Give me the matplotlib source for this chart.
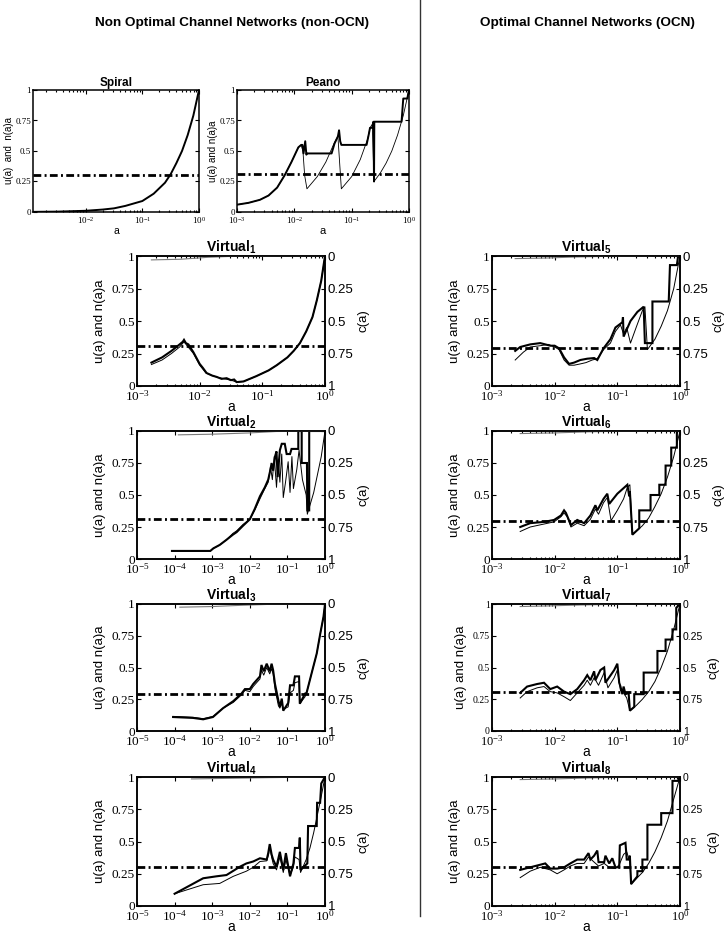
import numpy as np
import matplotlib
matplotlib.use('Agg')
import matplotlib.pyplot as plt
from matplotlib.lines import Line2D

plt.rcParams['mathtext.fontset'] = 'custom'
plt.rcParams['mathtext.rm'] = 'Liberation Serif'
plt.rcParams['mathtext.bf'] = 'Liberation Sans:bold'
plt.rcParams['mathtext.sf'] = 'Liberation Sans'
plt.rcParams['font.family'] = ['Liberation Sans', 'DejaVu Sans']
plt.rcParams['font.serif'] = ['Liberation Serif', 'DejaVu Serif']

# ---------------- data (x stored as log10(a)) ----------------
spiral_la = [-2.93, -2.5, -2.0, -1.7, -1.5, -1.3, -1.0, -0.8, -0.6, -0.5, -0.4, -0.3, -0.2, -0.1, 0.0]
spiral_u = [0.0012, 0.003, 0.01, 0.02, 0.03, 0.05, 0.09, 0.15, 0.24, 0.31, 0.4, 0.5, 0.63, 0.79, 1.0]
spiral_thr = 0.305

peano_u_la = [-3.0, -2.8, -2.6, -2.45, -2.3, -2.17, -2.05, -1.93, -1.88, -1.86, -1.84, -1.81, -1.79, -1.78,
              -1.35, -1.3, -1.24, -1.22, -1.2, -1.18, -0.74, -0.7, -0.68, -0.64, -0.62, -0.61, -0.605,
              -0.13, -0.1, -0.03, 0.0]
peano_u = [0.06, 0.075, 0.1, 0.135, 0.2, 0.3, 0.41, 0.53, 0.55, 0.55, 0.48, 0.58, 0.47, 0.48,
           0.48, 0.56, 0.62, 0.67, 0.58, 0.55, 0.55, 0.64, 0.69, 0.69, 0.74, 0.25, 0.74,
           0.74, 0.93, 0.93, 1.0]
peano_n_la = [-3.0, -2.8, -2.6, -2.45, -2.3, -2.17, -2.05, -1.93, -1.88, -1.85, -1.82, -1.78, -1.6, -1.45,
              -1.3, -1.24, -1.18, -1.0, -0.85, -0.72, -0.68, -0.64, -0.61, -0.5, -0.4, -0.3, -0.2, -0.1, 0.0]
peano_n = [0.06, 0.075, 0.1, 0.135, 0.2, 0.3, 0.41, 0.53, 0.55, 0.5, 0.3, 0.19, 0.29, 0.41,
           0.57, 0.62, 0.19, 0.29, 0.43, 0.6, 0.69, 0.72, 0.25, 0.32, 0.4, 0.5, 0.63, 0.79, 1.0]
peano_thr = 0.315

v1_u_la = [-2.77, -2.6, -2.45, -2.32, -2.27, -2.25, -2.22, -2.18, -2.1, -2.0, -1.95, -1.89, -1.8, -1.73, -1.65,
           -1.57, -1.5, -1.45, -1.41, -1.3, -1.25, -1.1, -0.9, -0.77, -0.6, -0.5, -0.4, -0.3, -0.2, -0.13, -0.06, 0.0]
v1_u = [0.18, 0.22, 0.27, 0.32, 0.34, 0.355, 0.33, 0.32, 0.26, 0.17, 0.14, 0.1, 0.08, 0.07, 0.055,
        0.06, 0.045, 0.05, 0.03, 0.035, 0.045, 0.075, 0.12, 0.16, 0.22, 0.27, 0.33, 0.42, 0.53, 0.66, 0.81, 1.0]
v1_n_la = [-2.77, -2.6, -2.45, -2.32, -2.25, -2.2, -2.1, -2.0, -1.9, -1.8, -1.7, -1.6, -1.5, -1.41, -1.3,
           -1.1, -0.9, -0.77, -0.6, -0.5, -0.4, -0.3, -0.2, -0.13, -0.06, 0.0]
v1_n = [0.165, 0.2, 0.25, 0.3, 0.34, 0.31, 0.25, 0.16, 0.1, 0.08, 0.065, 0.055, 0.045, 0.03, 0.035,
        0.075, 0.12, 0.16, 0.22, 0.27, 0.33, 0.42, 0.53, 0.66, 0.81, 1.0]
v1_c_la = [-2.77, -2.3, -1.87, -1.5, 0.0]
v1_c = [0.03, 0.025, 0.01, 0.003, 0.0]
v1_thr = 0.305

v2_u_la = [-4.07, -3.05, -2.97, -2.8, -2.62, -2.45, -2.35, -2.18, -2.0, -1.87, -1.73, -1.6, -1.51, -1.45, -1.42,
           -1.38, -1.33, -1.29, -1.26, -1.2, -1.15, -1.07, -1.02, -0.93, -0.89, -0.71, -0.71, -0.62, -0.62,
           -0.48, -0.47, -0.42, -0.42, 0.0]
v2_u = [0.063, 0.063, 0.083, 0.11, 0.15, 0.19, 0.21, 0.26, 0.31, 0.39, 0.49, 0.56, 0.62, 0.7, 0.75,
        0.69, 0.8, 0.84, 0.64, 0.85, 0.9, 0.9, 0.82, 0.82, 0.86, 0.86, 1.0, 1.0, 0.75,
        0.75, 0.38, 0.38, 1.0, 1.0]
v2_n_la = [-4.07, -3.05, -2.97, -2.8, -2.62, -2.45, -2.35, -2.18, -2.0, -1.87, -1.73, -1.6, -1.51, -1.45, -1.4,
           -1.35, -1.29, -1.24, -1.2, -1.15, -1.11, -1.05, -0.98, -0.93, -0.88, -0.84, -0.75, -0.69, -0.6,
           -0.5, -0.47, -0.4, -0.3, -0.2, -0.1, 0.0]
v2_n = [0.063, 0.063, 0.083, 0.11, 0.15, 0.2, 0.22, 0.27, 0.31, 0.38, 0.47, 0.55, 0.6, 0.72, 0.62,
        0.8, 0.56, 0.78, 0.6, 0.82, 0.48, 0.6, 0.76, 0.52, 0.8, 0.55, 0.7, 0.85, 0.62,
        0.5, 0.35, 0.42, 0.52, 0.66, 0.8, 1.0]
v2_c_la = [-3.9, -3.0, -2.0, -1.3, 0.0]
v2_c = [0.03, 0.025, 0.015, 0.004, 0.0]
v2_thr = 0.31

v3_la = [-4.04, -3.51, -3.24, -2.98, -2.71, -2.44, -2.22, -2.13, -2.0, -1.91, -1.82, -1.73, -1.69, -1.63, -1.55,
         -1.47, -1.42, -1.38, -1.33, -1.24, -1.2, -1.15, -1.11, -0.98, -0.93, -0.84, -0.8, -0.69, -0.67, -0.53,
         -0.49, -0.36, -0.22, -0.13, -0.04, 0.0]
v3_u = [0.11, 0.103, 0.092, 0.11, 0.18, 0.235, 0.295, 0.33, 0.33, 0.37, 0.40, 0.43, 0.52, 0.47, 0.53,
        0.47, 0.53, 0.48, 0.37, 0.24, 0.19, 0.255, 0.16, 0.22, 0.36, 0.36, 0.43, 0.43, 0.215, 0.295,
        0.30, 0.45, 0.61, 0.76, 0.9, 1.0]
v3_n = [0.115, 0.108, 0.097, 0.115, 0.18, 0.225, 0.285, 0.32, 0.31, 0.35, 0.38, 0.41, 0.48, 0.44, 0.5,
        0.45, 0.49, 0.45, 0.33, 0.2, 0.18, 0.22, 0.17, 0.19, 0.3, 0.32, 0.38, 0.39, 0.215, 0.27,
        0.3, 0.45, 0.61, 0.76, 0.9, 1.0]
v3_c_la = [-3.86, -3.0, -2.2, -1.5, 0.0]
v3_c = [0.025, 0.02, 0.01, 0.003, 0.0]
v3_thr = 0.29

v4_u_la = [-4.0, -3.24, -2.89, -2.62, -2.26, -2.09, -1.91, -1.73, -1.55, -1.51, -1.47, -1.42, -1.38, -1.29,
           -1.2, -1.11, -1.04, -0.93, -0.84, -0.8, -0.69, -0.67, -0.65, -0.47, -0.45, -0.22, -0.21, -0.13,
           -0.1, 0.0]
v4_u = [0.095, 0.215, 0.23, 0.24, 0.305, 0.33, 0.345, 0.37, 0.36, 0.41, 0.48, 0.40, 0.36, 0.305,
        0.42, 0.28, 0.41, 0.23, 0.33, 0.45, 0.45, 0.53, 0.28, 0.33, 0.62, 0.62, 0.8, 0.8,
        0.95, 1.0]
v4_n_la = [-4.0, -3.24, -2.8, -2.44, -2.09, -1.91, -1.73, -1.55, -1.5, -1.47, -1.42, -1.38, -1.29, -1.2,
           -1.11, -1.04, -0.93, -0.84, -0.8, -0.69, -0.65, -0.5, -0.4, -0.3, -0.2, -0.1, 0.0]
v4_n = [0.095, 0.165, 0.175, 0.23, 0.27, 0.3, 0.345, 0.35, 0.4, 0.46, 0.38, 0.33, 0.28, 0.38,
        0.26, 0.36, 0.24, 0.3, 0.38, 0.36, 0.26, 0.36, 0.45, 0.57, 0.71, 0.85, 1.0]
v4_c_la = [-3.55, -2.5, -1.5, 0.0]
v4_c = [0.015, 0.01, 0.005, 0.0]
v4_thr = 0.305

v5_u_la = [-2.63, -2.55, -2.39, -2.23, -2.07, -2.0, -1.93, -1.85, -1.77, -1.69, -1.59, -1.48, -1.37, -1.32,
           -1.22, -1.11, -1.03, -0.92, -0.91, -0.9, -0.79, -0.68, -0.58, -0.56, -0.44, -0.44, -0.18, -0.16,
           -0.05, -0.03, 0.0]
v5_u = [0.27, 0.30, 0.32, 0.33, 0.31, 0.31, 0.29, 0.22, 0.17, 0.18, 0.20, 0.21, 0.215, 0.20,
        0.29, 0.36, 0.45, 0.49, 0.53, 0.38, 0.50, 0.57, 0.61, 0.33, 0.33, 0.65, 0.65, 0.93,
        0.93, 1.0, 1.0]
v5_n_la = [-2.63, -2.5, -2.39, -2.23, -2.1, -2.0, -1.93, -1.85, -1.77, -1.69, -1.59, -1.5, -1.4, -1.32,
           -1.22, -1.11, -1.03, -0.95, -0.9, -0.85, -0.79, -0.7, -0.6, -0.56, -0.52, -0.4, -0.3, -0.2, -0.1, 0.0]
v5_n = [0.2, 0.26, 0.30, 0.31, 0.32, 0.30, 0.28, 0.2, 0.16, 0.16, 0.17, 0.18, 0.2, 0.21,
        0.28, 0.33, 0.42, 0.47, 0.40, 0.45, 0.33, 0.45, 0.58, 0.61, 0.28, 0.36, 0.46, 0.58, 0.75, 1.0]
v5_c_la = [-2.63, -2.1, -1.7, -1.2, 0.0]
v5_c = [0.02, 0.015, 0.008, 0.003, 0.0]
v5_thr = 0.29

v6_u_la = [-2.55, -2.39, -2.17, -2.01, -1.9, -1.85, -1.82, -1.74, -1.64, -1.53, -1.43, -1.35, -1.32, -1.22,
           -1.16, -1.13, -1.0, -0.84, -0.81, -0.8, -0.76, -0.65, -0.65, -0.47, -0.47, -0.33, -0.33, -0.23,
           -0.23, -0.14, -0.14, -0.05, -0.05, 0.0]
v6_u = [0.25, 0.28, 0.29, 0.305, 0.34, 0.38, 0.36, 0.265, 0.305, 0.28, 0.34, 0.42, 0.38, 0.47,
        0.51, 0.43, 0.51, 0.58, 0.49, 0.53, 0.19, 0.24, 0.38, 0.38, 0.5, 0.5, 0.58, 0.58,
        0.73, 0.73, 0.87, 0.87, 1.0, 1.0]
v6_n_la = [-2.55, -2.39, -2.2, -2.01, -1.9, -1.85, -1.8, -1.74, -1.64, -1.53, -1.43, -1.35, -1.3, -1.22,
           -1.16, -1.1, -1.0, -0.9, -0.84, -0.8, -0.76, -0.6, -0.5, -0.4, -0.3, -0.2, -0.1, 0.0]
v6_n = [0.215, 0.25, 0.27, 0.29, 0.33, 0.36, 0.33, 0.25, 0.28, 0.26, 0.31, 0.39, 0.35, 0.44,
        0.48, 0.3, 0.38, 0.47, 0.56, 0.58, 0.19, 0.26, 0.32, 0.41, 0.51, 0.64, 0.8, 1.0]
v6_c_la = [-2.55, -2.0, -1.5, -1.0, 0.0]
v6_c = [0.02, 0.015, 0.007, 0.002, 0.0]
v6_thr = 0.30

v7_u_la = [-2.55, -2.44, -2.28, -2.17, -2.07, -1.96, -1.85, -1.75, -1.64, -1.53, -1.48, -1.43, -1.37, -1.35,
           -1.27, -1.21, -1.19, -1.05, -1.0, -0.97, -0.95, -0.92, -0.9, -0.87, -0.82, -0.8, -0.73, -0.73,
           -0.58, -0.58, -0.36, -0.36, -0.23, -0.23, -0.12, -0.12, -0.06, -0.06, 0.0]
v7_u = [0.30, 0.35, 0.37, 0.38, 0.33, 0.35, 0.31, 0.29, 0.33, 0.40, 0.44, 0.40, 0.47, 0.40,
        0.48, 0.50, 0.38, 0.48, 0.53, 0.38, 0.35, 0.29, 0.35, 0.29, 0.30, 0.16, 0.19, 0.29,
        0.29, 0.46, 0.46, 0.63, 0.63, 0.72, 0.72, 0.8, 0.8, 0.97, 1.0]
v7_n_la = [-2.55, -2.44, -2.28, -2.17, -2.07, -1.96, -1.85, -1.75, -1.64, -1.53, -1.48, -1.43, -1.37, -1.3,
           -1.21, -1.15, -1.05, -1.0, -0.95, -0.9, -0.85, -0.8, -0.7, -0.6, -0.5, -0.4, -0.3, -0.2, -0.1, 0.0]
v7_n = [0.26, 0.31, 0.34, 0.35, 0.31, 0.30, 0.27, 0.24, 0.30, 0.36, 0.40, 0.36, 0.42, 0.36,
        0.46, 0.34, 0.42, 0.48, 0.32, 0.30, 0.26, 0.16, 0.2, 0.25, 0.31, 0.39, 0.5, 0.63, 0.8, 1.0]
v7_c_la = [-2.55, -2.1, -1.6, -1.0, 0.0]
v7_c = [0.02, 0.015, 0.008, 0.002, 0.0]
v7_thr = 0.31

v8_u_la = [-2.55, -2.39, -2.23, -2.15, -2.07, -1.96, -1.85, -1.75, -1.64, -1.53, -1.46, -1.43, -1.37, -1.32,
           -1.3, -1.21, -1.19, -1.13, -1.08, -1.03, -0.97, -0.96, -0.87, -0.85, -0.82, -0.8, -0.78, -0.68,
           -0.68, -0.6, -0.6, -0.52, -0.52, -0.3, -0.3, -0.12, -0.12, -0.02, -0.02, 0.0]
v8_u = [0.28, 0.30, 0.32, 0.33, 0.29, 0.29, 0.30, 0.33, 0.36, 0.36, 0.41, 0.36, 0.39, 0.43,
        0.34, 0.34, 0.39, 0.33, 0.37, 0.30, 0.30, 0.47, 0.49, 0.36, 0.36, 0.39, 0.17, 0.23,
        0.27, 0.27, 0.36, 0.36, 0.63, 0.63, 0.72, 0.72, 0.97, 0.97, 1.0, 1.0]
v8_n_la = [-2.55, -2.39, -2.23, -2.07, -1.96, -1.85, -1.75, -1.64, -1.53, -1.46, -1.37, -1.3, -1.21, -1.13,
           -1.03, -0.97, -0.9, -0.85, -0.8, -0.78, -0.7, -0.6, -0.5, -0.4, -0.3, -0.2, -0.1, 0.0]
v8_n = [0.22, 0.27, 0.30, 0.28, 0.25, 0.28, 0.31, 0.33, 0.33, 0.38, 0.34, 0.31, 0.33, 0.30,
        0.29, 0.32, 0.40, 0.42, 0.34, 0.17, 0.21, 0.26, 0.33, 0.42, 0.53, 0.66, 0.83, 1.0]
v8_c_la = [-2.55, -2.0, -1.5, -1.0, 0.0]
v8_c = [0.02, 0.015, 0.008, 0.003, 0.0]
v8_thr = 0.30

ytick_vals = [0, 0.25, 0.5, 0.75, 1]
ytick_labels = ['0', '0.25', '0.5', '0.75', '1']

# ---------------- figure ----------------
W, H = 727, 934
fig = plt.figure(figsize=(W / 100, H / 100), dpi=100)
SERIF = ['Liberation Serif', 'DejaVu Serif']
SANS = ['Liberation Sans', 'DejaVu Sans']
DASHDOT = (0, (2.8, 1.2, 0.7, 1.2))


def px_axes(l, t, r, b):
    return fig.add_axes([l / W, 1 - b / H, (r - l) / W, (b - t) / H])


def style_axes(ax, xlo_exp, lt_size, xt_size):
    ax.set_xscale('log')
    ax.set_xlim(10.0 ** xlo_exp, 1)
    ax.set_ylim(0, 1)
    decs = list(range(int(np.ceil(xlo_exp)), 1))
    ax.set_xticks([10.0 ** k for k in decs])
    ax.set_xticklabels([r'$\mathrm{10^{%d}}$' % k for k in decs], fontsize=xt_size)
    ax.set_yticks(ytick_vals)
    ax.set_yticklabels(ytick_labels, fontsize=lt_size, family=SERIF)
    ax.tick_params(which='both', direction='in', top=True, length=3, width=0.8, pad=1.5)
    ax.tick_params(axis='x', which='both', pad=2.5)
    ax.tick_params(which='minor', length=1.5)
    for s in ax.spines.values():
        s.set_linewidth(1.1)


def draw_virtual(rect, title_n, xlo_exp, u_la, u_y, n_la, n_y, c_la, c_y, thr,
                 lt_size=9.5, rt_size=9.5, xt_size=9.5):
    ax = px_axes(*rect)
    ax.plot(10.0 ** np.array(u_la), u_y, color='k', lw=1.5, solid_joinstyle='miter')
    ax.plot(10.0 ** np.array(n_la), n_y, color='k', lw=0.7)
    ax.axhline(thr, color='k', lw=2.0, ls=DASHDOT)
    style_axes(ax, xlo_exp, lt_size, xt_size)
    ax.tick_params(axis='y', right=False)
    ax.set_ylabel('u(a) and n(a)a', fontsize=9.5, labelpad=4)
    ax.set_xlabel('a', fontsize=10, labelpad=-3)
    ax.set_title(r'Virtual$_\mathbf{%d}$' % title_n, fontsize=10, fontweight='bold', pad=2)
    ax2 = ax.twinx()
    ax2.plot(10.0 ** np.array(c_la), c_y, color='#7a7a7a', lw=0.8)
    ax2.set_ylim(1, 0)
    ax2.set_yticks(ytick_vals)
    ax2.set_yticklabels(ytick_labels, fontsize=rt_size, family=SANS)
    ax2.tick_params(direction='in', length=3, width=0.8, pad=2)
    ax2.set_ylabel('c(a)', fontsize=9.5, labelpad=3)
    for s in ax2.spines.values():
        s.set_linewidth(1.1)
    return ax


# Spiral
ax = px_axes(33, 90, 199, 212)
ax.plot(10.0 ** np.array(spiral_la), spiral_u, color='k', lw=1.4)
ax.axhline(spiral_thr, color='k', lw=2.0, ls=DASHDOT)
style_axes(ax, -2.93, 6.5, 6.5)
ax.tick_params(right=True)
ax.set_ylabel('u(a)  and  n(a)a', fontsize=7, labelpad=1)
ax.set_xlabel('a', fontsize=7.5, labelpad=0)
ax.set_title('Spiral', fontsize=8.5, fontweight='bold', pad=3)

# Peano
ax = px_axes(237, 90, 409, 212)
ax.plot(10.0 ** np.array(peano_u_la), peano_u, color='k', lw=1.4)
ax.plot(10.0 ** np.array(peano_n_la), peano_n, color='k', lw=0.6)
ax.axhline(peano_thr, color='k', lw=2.0, ls=DASHDOT)
style_axes(ax, -3, 6.5, 6.5)
ax.tick_params(right=True)
ax.set_ylabel('u(a) and n(a)a', fontsize=7, labelpad=1)
ax.set_xlabel('a', fontsize=8, labelpad=0)
ax.set_title('Peano', fontsize=8.5, fontweight='bold', pad=3)

LX = (137, 325)
RX = (492, 680)
ROWS = [(256, 386), (431, 559), (604, 731), (777, 906)]

draw_virtual((LX[0], ROWS[0][0], LX[1], ROWS[0][1]), 1, -3, v1_u_la, v1_u, v1_n_la, v1_n, v1_c_la, v1_c, v1_thr)
draw_virtual((LX[0], ROWS[1][0], LX[1], ROWS[1][1]), 2, -5, v2_u_la, v2_u, v2_n_la, v2_n, v2_c_la, v2_c, v2_thr)
draw_virtual((LX[0], ROWS[2][0], LX[1], ROWS[2][1]), 3, -5, v3_la, v3_u, v3_la, v3_n, v3_c_la, v3_c, v3_thr)
draw_virtual((LX[0], ROWS[3][0], LX[1], ROWS[3][1]), 4, -5, v4_u_la, v4_u, v4_n_la, v4_n, v4_c_la, v4_c, v4_thr)
draw_virtual((RX[0], ROWS[0][0], RX[1], ROWS[0][1]), 5, -3, v5_u_la, v5_u, v5_n_la, v5_n, v5_c_la, v5_c, v5_thr,
             xt_size=9)
draw_virtual((RX[0], ROWS[1][0], RX[1], ROWS[1][1]), 6, -3, v6_u_la, v6_u, v6_n_la, v6_n, v6_c_la, v6_c, v6_thr,
             xt_size=9)
draw_virtual((RX[0], ROWS[2][0], RX[1], ROWS[2][1]), 7, -3, v7_u_la, v7_u, v7_n_la, v7_n, v7_c_la, v7_c, v7_thr,
             lt_size=7, rt_size=7.5, xt_size=9)
draw_virtual((RX[0], ROWS[3][0], RX[1], ROWS[3][1]), 8, -3, v8_u_la, v8_u, v8_n_la, v8_n, v8_c_la, v8_c, v8_thr,
             rt_size=7.5, xt_size=9)

# headers and divider
hdr_family = ['Liberation Sans Narrow', 'Liberation Sans', 'DejaVu Sans']
fig.text(232 / W, 1 - 23 / H, 'Non Optimal Channel Networks (non-OCN)', ha='center', va='center',
         fontsize=9.7, fontweight='bold', family=hdr_family)
fig.text(587 / W, 1 - 23 / H, 'Optimal Channel Networks (OCN)', ha='center', va='center',
         fontsize=9.7, fontweight='bold', family=hdr_family)
fig.add_artist(Line2D([420 / W, 420 / W], [1.0, 1 - 916 / H], color='#333333', lw=1.0))

fig.savefig('out.png', dpi=100)
